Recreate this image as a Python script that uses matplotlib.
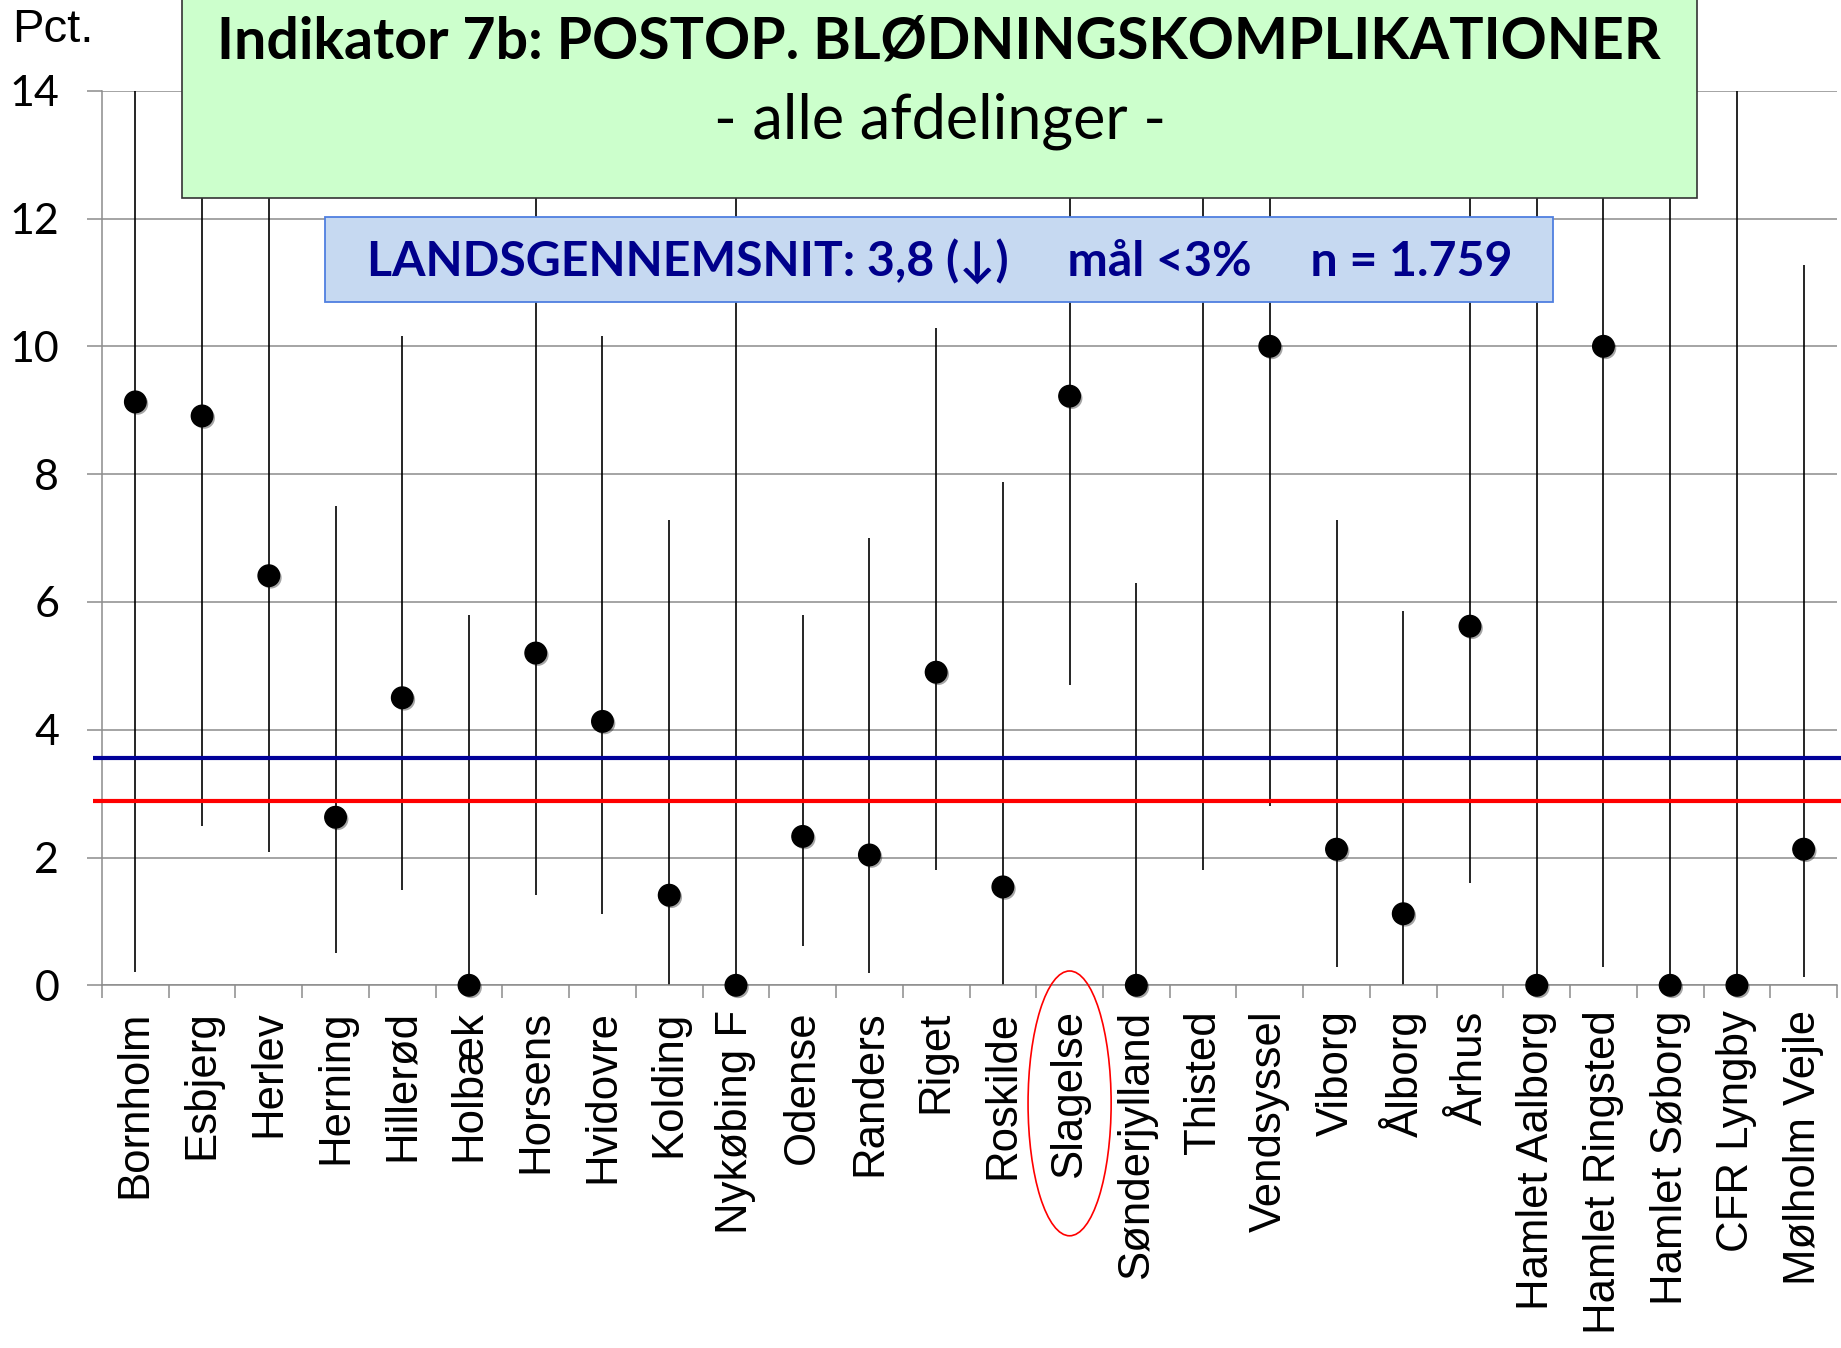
import matplotlib
matplotlib.use("Agg")
import matplotlib.pyplot as plt
import matplotlib.patheffects as pe
from matplotlib.patches import Rectangle, Ellipse
from matplotlib.transforms import blended_transform_factory

# data
hospitals = ['Bornholm', 'Esbjerg', 'Herlev', 'Herning', 'Hillerød', 'Holbæk',
             'Horsens', 'Hvidovre', 'Kolding', 'Nykøbing F', 'Odense', 'Randers',
             'Riget', 'Roskilde', 'Slagelse', 'Sønderjylland', 'Thisted',
             'Vendsyssel', 'Viborg', 'Ålborg', 'Århus', 'Hamlet Aalborg',
             'Hamlet Ringsted', 'Hamlet Søborg', 'CFR Lyngby', 'Mølholm Vejle']
pct = [9.13, 8.91, 6.41, 2.63, 4.50, 0.0, 5.20, 4.13, 1.41, 0.0, 2.33, 2.04,
       4.90, 1.54, 9.22, 0.0, 11.3, 10.0, 2.13, 1.12, 5.62, 0.0, 10.0, 0.0,
       0.0, 2.13]
lower = [0.21, 2.50, 2.09, 0.50, 1.49, 0.0, 1.41, 1.12, 0.0, 0.0, 0.62, 0.20,
         1.80, 0.0, 4.70, 0.0, 1.80, 2.80, 0.29, 0.0, 1.60, 0.0, 0.29, 0.0,
         0.0, 0.13]
upper = [15, 15, 15, 7.50, 10.16, 5.79, 15, 10.16, 7.28, 15, 5.79, 7.00,
         10.29, 7.88, 15, 6.30, 15, 15, 7.28, 5.86, 15, 15, 15, 15, 15, 11.28]
avg_line = 3.56
goal_line = 2.89
yticks = [0, 2, 4, 6, 8, 10, 12, 14]

title1 = 'Indikator 7b: POSTOP. BLØDNINGSKOMPLIKATIONER'
title2 = '- alle afdelinger -'
info = 'LANDSGENNEMSNIT: 3,8 (\u2193)     mål <3%     n = 1.759'

W, H = 1841, 1348
fig = plt.figure(figsize=(W / 100, H / 100), dpi=100)
ax = fig.add_axes([102 / W, 1 - 985.3 / H, 1735 / W, 894.6 / H])

x = list(range(len(hospitals)))

# grid + axes styling
ax.set_xlim(-0.5, len(hospitals) - 0.5)
ax.set_ylim(0, 14)
ax.set_yticks(yticks)
ax.yaxis.grid(True, color='#8c8c8c', linewidth=1.1, zorder=0)
ax.set_axisbelow(True)
for s in ['top', 'right']:
    ax.spines[s].set_visible(False)
for s in ['left', 'bottom']:
    ax.spines[s].set_color('#8c8c8c')
    ax.spines[s].set_linewidth(1.1)

ax.tick_params(axis='y', length=10.8, width=1.1, color='#8c8c8c', pad=20,
               labelsize=31)
for lab in ax.get_yticklabels():
    lab.set_family(['Lato', 'DejaVu Sans'])

ax.set_xticks(x)
ax.set_xticklabels(hospitals, rotation=90, fontsize=31.5,
                   family=['Liberation Sans', 'DejaVu Sans'], va='top')
ax.tick_params(axis='x', which='major', length=0, pad=18)
ax.set_xticks([i - 0.5 for i in range(len(hospitals) + 1)], minor=True)
ax.tick_params(axis='x', which='minor', length=9.4, width=1.1, color='#8c8c8c')

# ranges and points
ax.vlines(x, lower, upper, color='black', linewidth=1.2, zorder=2)
ax.plot([-0.63, len(hospitals) - 0.44], [avg_line, avg_line], color='#000099',
        linewidth=3, zorder=3, clip_on=False, solid_capstyle='butt')
ax.plot([-0.63, len(hospitals) - 0.44], [goal_line, goal_line], color='#ff0000',
        linewidth=3, zorder=3, clip_on=False, solid_capstyle='butt')
ax.plot(x, pct, 'o', color='black', markersize=15.5, zorder=4, clip_on=False,
        path_effects=[pe.SimplePatchShadow(offset=(1.5, -1.5), alpha=0.35),
                      pe.Normal()])

# red ellipse around Slagelse
tr = blended_transform_factory(ax.transData, ax.transAxes)
ax.add_patch(Ellipse((hospitals.index('Slagelse'), -0.132), 1.245, 0.296,
                     transform=tr, fill=False, edgecolor='red',
                     linewidth=1.2, clip_on=False, zorder=5))

# title box
fig.add_artist(Rectangle((182 / W, 1 - 198 / H), 1515 / W, 210 / H,
                         transform=fig.transFigure, facecolor='#ccffcc',
                         edgecolor='#333333', linewidth=1.2, zorder=10))
# info box
fig.add_artist(Rectangle((325 / W, 1 - 302 / H), 1228 / W, 85 / H,
                         transform=fig.transFigure, facecolor='#c6d9f1',
                         edgecolor='#4f7fe0', linewidth=1.3, zorder=10))

t1 = fig.text(939 / W, 1 - 42 / H, title1, ha='center', va='center',
              fontsize=44, fontweight='bold', family=['Lato', 'DejaVu Sans'],
              zorder=11)
t2 = fig.text(940 / W, 1 - 121 / H, title2, ha='center', va='center',
              fontsize=40, family=['Lato', 'DejaVu Sans'], zorder=11)
t3 = fig.text(939.5 / W, 1 - 262 / H, info, ha='center', va='center',
              fontsize=30, fontweight='bold', color='#00008b',
              family=['Lato', 'DejaVu Sans'], zorder=11)
fig.text(12 / W, 1 - 30 / H, 'Pct.', ha='left', va='center', fontsize=34,
         family=['Liberation Sans', 'DejaVu Sans'])

# scale text so widths match the boxes in the original
renderer = fig.canvas.get_renderer()
for t, target in [(t1, 1444), (t2, 452), (t3, 1145)]:
    w = t.get_window_extent(renderer).width
    t.set_fontsize(t.get_fontsize() * target / w)

fig.savefig('out.png', dpi=100)
